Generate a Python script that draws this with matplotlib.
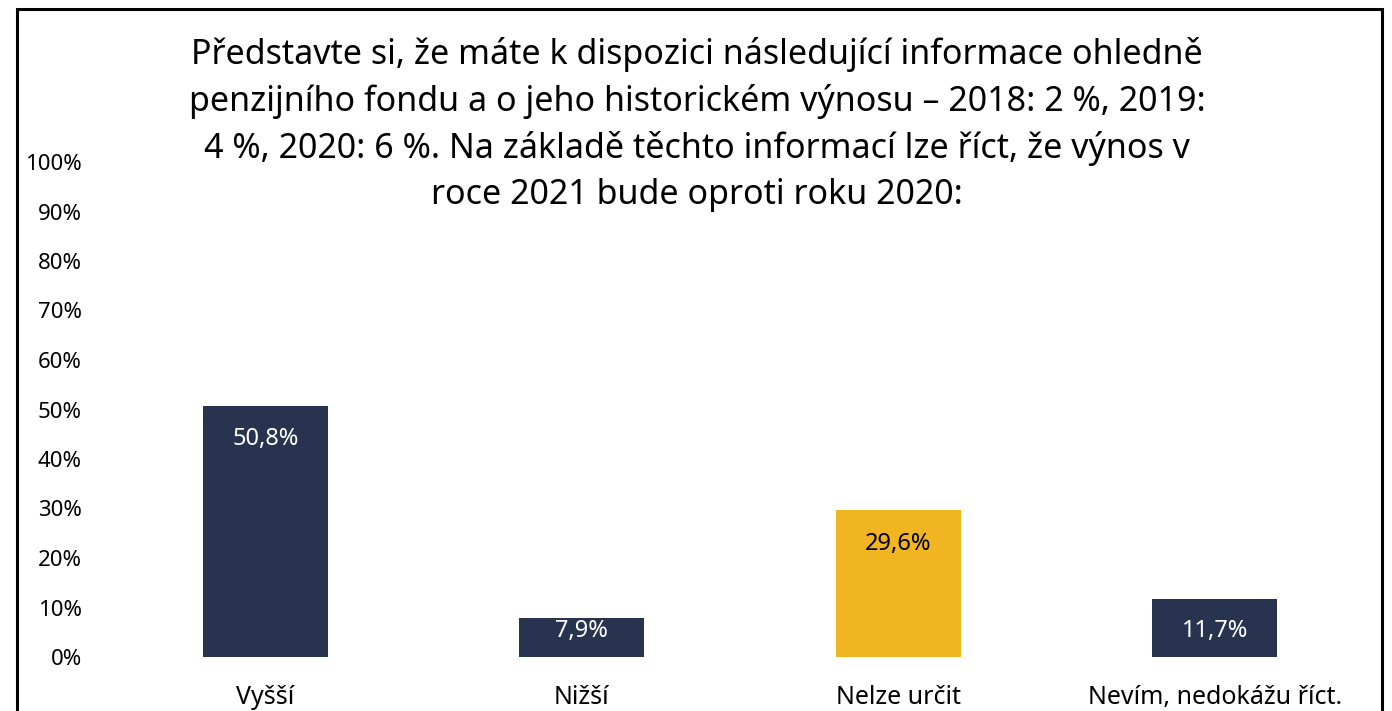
import matplotlib.pyplot as plt
from matplotlib.patches import Rectangle
from matplotlib.ticker import PercentFormatter

plt.rcParams['font.family'] = ['Noto Sans', 'DejaVu Sans']

# data
categories = ['Vyšší', 'Nižší', 'Nelze určit', 'Nevím, nedokážu říct.']
values = [50.8, 7.9, 29.6, 11.7]
bar_colors = ['#28334f', '#28334f', '#f2b522', '#28334f']
label_colors = ['white', 'white', 'black', 'white']
title = ('Představte si, že máte k dispozici následující informace ohledně\n'
         'penzijního fondu a o jeho historickém výnosu – 2018: 2 %, 2019:\n'
         '4 %, 2020: 6 %. Na základě těchto informací lze říct, že výnos v\n'
         'roce 2021 bude oproti roku 2020:')

fig = plt.figure(figsize=(13.92, 7.11), dpi=100)
ax = fig.add_axes([107 / 1392, 54 / 711, 1266 / 1392, 495 / 711])

x = range(len(categories))
ax.bar(x, values, width=0.395, color=bar_colors)

for i, v in enumerate(values):
    ax.text(i, max(v - 6.8, 5.2), f'{v:.1f}%'.replace('.', ','),
            ha='center', va='center', fontsize=17, color=label_colors[i])

ax.set_xlim(-0.5, len(categories) - 0.5)
ax.set_ylim(0, 100)
ax.set_yticks(range(0, 101, 10))
ax.yaxis.set_major_formatter(PercentFormatter(decimals=0))
ax.set_xticks(list(x))
ax.set_xticklabels(categories)
ax.tick_params(axis='y', length=0, pad=18, labelsize=16)
ax.tick_params(axis='x', length=0, pad=20, labelsize=18)
for s in ax.spines.values():
    s.set_visible(False)

fig.text(697 / 1392, 1 - 37 / 711, title, ha='center', va='top',
         fontsize=24.5, linespacing=1.45)

# black frame around the chart (runs off the bottom edge)
fig.patches.append(Rectangle((17 / 1392, -0.2), 1365 / 1392, 1.2 - 9 / 711,
                             transform=fig.transFigure, fill=False,
                             edgecolor='black', linewidth=2.2))

fig.savefig('out.png', dpi=100)
